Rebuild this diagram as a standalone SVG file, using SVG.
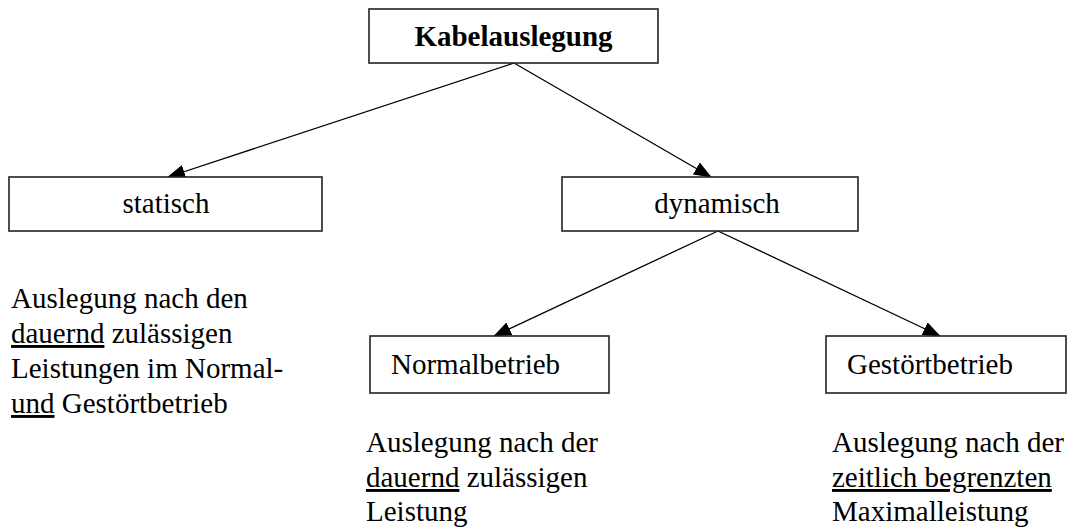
<svg xmlns="http://www.w3.org/2000/svg" width="1074" height="531" viewBox="0 0 1074 531">
<defs>
<marker id="arr" markerUnits="userSpaceOnUse" markerWidth="18" markerHeight="14" viewBox="0 0 18 14" refX="17" refY="7" orient="auto">
<path d="M0,0 L18,7 L0,14 Z" fill="#000"/>
</marker>
<style>
.box{fill:#fff;stroke:#222;stroke-width:1.6}
.t{font-family:"Liberation Serif","Times New Roman","DejaVu Serif",serif;font-size:29px;fill:#000}
.b{font-weight:bold}
.c{stroke:#000;stroke-width:1.3;fill:none;marker-end:url(#arr)}
.u{text-decoration:underline}
</style>
</defs>
<g id="connectors">
<line class="c" x1="514" y1="63" x2="168" y2="177"/>
<line class="c" x1="514" y1="63" x2="711" y2="177"/>
<line class="c" x1="718" y1="231" x2="494" y2="336"/>
<line class="c" x1="718" y1="231" x2="940" y2="336"/>
</g>
<g id="kabelauslegung">
<rect class="box" x="369" y="9" width="289" height="54"/>
<text class="t b" x="513.5" y="46" text-anchor="middle">Kabelauslegung</text>
</g>
<g id="statisch">
<rect class="box" x="9" y="177" width="313" height="54"/>
<text class="t" x="166" y="213" text-anchor="middle">statisch</text>
</g>
<g id="dynamisch">
<rect class="box" x="562" y="177" width="296" height="54"/>
<text class="t" x="717" y="213" text-anchor="middle">dynamisch</text>
</g>
<g id="normalbetrieb">
<rect class="box" x="370" y="336" width="239" height="57"/>
<text class="t" x="391" y="374">Normalbetrieb</text>
</g>
<g id="gestoertbetrieb">
<rect class="box" x="826" y="336" width="240" height="57"/>
<text class="t" x="847" y="374">Gestörtbetrieb</text>
</g>
<g id="text-statisch">
<text class="t" x="11" y="308">Auslegung nach den</text>
<text class="t" x="11" y="343"><tspan class="u">dauernd</tspan> zulässigen</text>
<text class="t" x="11" y="378">Leistungen im Normal-</text>
<text class="t" x="11" y="413"><tspan class="u">und</tspan> Gestörtbetrieb</text>
</g>
<g id="text-normal">
<text class="t" x="366" y="452">Auslegung nach der</text>
<text class="t" x="366" y="487"><tspan class="u">dauernd</tspan> zulässigen</text>
<text class="t" x="366" y="521">Leistung</text>
</g>
<g id="text-gestoert">
<text class="t" x="832" y="452">Auslegung nach der</text>
<text class="t" x="832" y="487"><tspan class="u">zeitlich begrenzten</tspan></text>
<text class="t" x="832" y="521">Maximalleistung</text>
</g>
</svg>
